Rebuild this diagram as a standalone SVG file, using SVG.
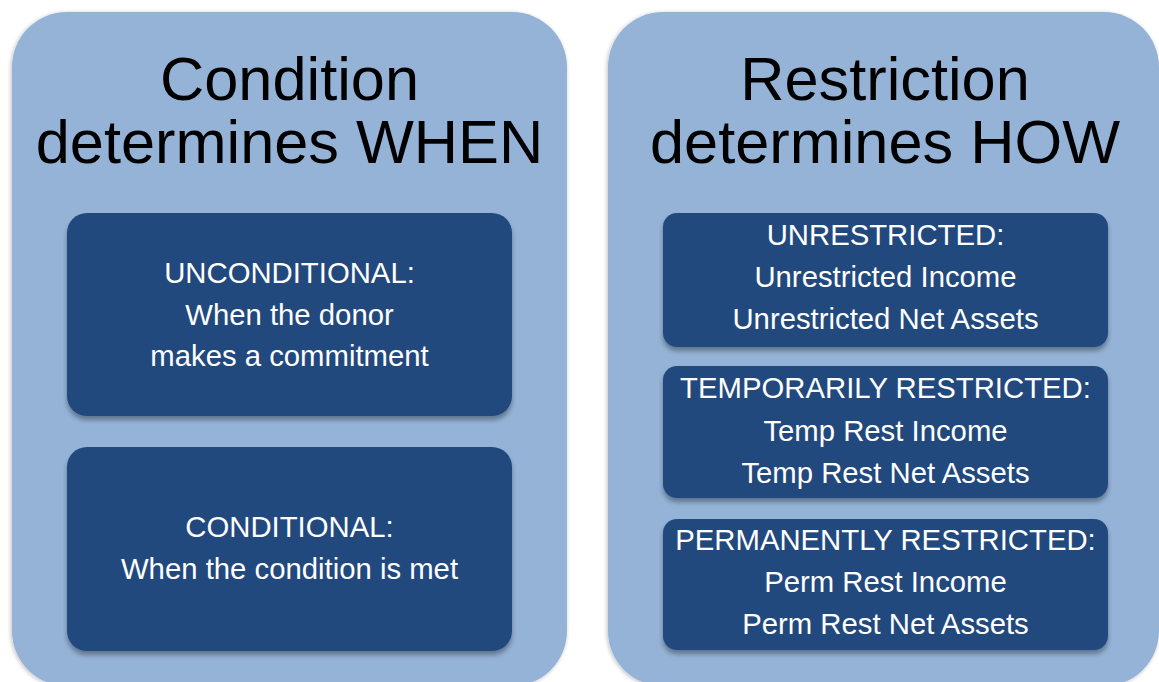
<svg xmlns="http://www.w3.org/2000/svg" width="1159" height="682" viewBox="0 0 1159 682">
<defs>
<filter id="psh" x="-5%" y="-5%" width="110%" height="110%">
<feGaussianBlur in="SourceAlpha" stdDeviation="2"/>
<feOffset dx="-1" dy="1"/>
<feComponentTransfer><feFuncA type="linear" slope="0.25"/></feComponentTransfer>
<feMerge><feMergeNode/><feMergeNode in="SourceGraphic"/></feMerge>
</filter>
<filter id="bsh" x="-5%" y="-10%" width="110%" height="125%">
<feGaussianBlur in="SourceAlpha" stdDeviation="2.5"/>
<feOffset dx="0" dy="4"/>
<feComponentTransfer><feFuncA type="linear" slope="0.35"/></feComponentTransfer>
<feMerge><feMergeNode/><feMergeNode in="SourceGraphic"/></feMerge>
</filter>
</defs>
<style>
.panel{fill:#95b3d7;filter:url(#psh)}
.box{fill:#214a7e;filter:url(#bsh)}
.title{font-family:"Liberation Sans",Arial,sans-serif;font-size:61.3px;fill:#000;text-anchor:middle}
.t{font-family:"Liberation Sans",Arial,sans-serif;font-size:29.3px;fill:#fff;text-anchor:middle}
</style>
<rect width="1159" height="682" fill="#fff"/>
<g id="panel-condition">
<rect class="panel" x="12" y="12" width="555" height="674" rx="55"/>
<text class="title" x="289.5" y="100">Condition</text>
<text class="title" x="289.5" y="163">determines WHEN</text>
</g>
<g id="panel-restriction">
<rect class="panel" x="608" y="12" width="551" height="674" rx="55"/>
<text class="title" x="885" y="100">Restriction</text>
<text class="title" x="885" y="163">determines HOW</text>
</g>
<g id="unconditional">
<rect class="box" x="67" y="213" width="445" height="203" rx="20"/>
<text class="t" x="289.5" y="283">UNCONDITIONAL:</text>
<text class="t" x="289.5" y="325">When the donor</text>
<text class="t" x="289.5" y="366">makes a commitment</text>
</g>
<g id="conditional">
<rect class="box" x="67" y="447" width="445" height="204" rx="20"/>
<text class="t" x="289.5" y="537">CONDITIONAL:</text>
<text class="t" x="289.5" y="579">When the condition is met</text>
</g>
<g id="unrestricted">
<rect class="box" x="663" y="213" width="445" height="134" rx="14"/>
<text class="t" x="885.5" y="245">UNRESTRICTED:</text>
<text class="t" x="885.5" y="287">Unrestricted Income</text>
<text class="t" x="885.5" y="329">Unrestricted Net Assets</text>
</g>
<g id="temporarily-restricted">
<rect class="box" x="663" y="366" width="445" height="132" rx="14"/>
<text class="t" x="885.5" y="398">TEMPORARILY RESTRICTED:</text>
<text class="t" x="885.5" y="441">Temp Rest Income</text>
<text class="t" x="885.5" y="483">Temp Rest Net Assets</text>
</g>
<g id="permanently-restricted">
<rect class="box" x="663" y="519" width="445" height="131" rx="14"/>
<text class="t" x="885.5" y="550">PERMANENTLY RESTRICTED:</text>
<text class="t" x="885.5" y="592">Perm Rest Income</text>
<text class="t" x="885.5" y="634">Perm Rest Net Assets</text>
</g>
<g id="connectors"></g>
</svg>
